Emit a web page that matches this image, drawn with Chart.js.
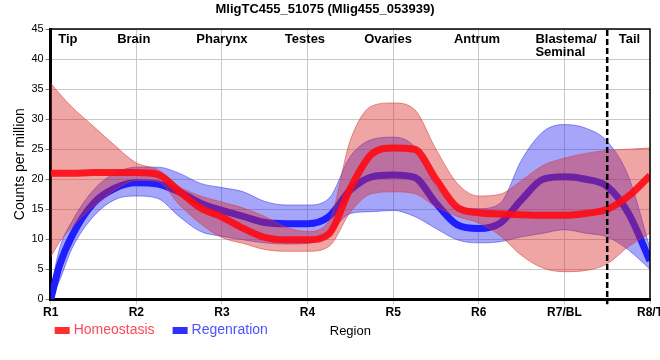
<!DOCTYPE html>
<html><head><meta charset="utf-8">
<script src="https://cdn.jsdelivr.net/npm/chart.js@4.4.0/dist/chart.umd.min.js"></script>
<style>html,body{margin:0;padding:0;background:#fff;overflow:hidden}#wrap{width:660px;height:360px;position:relative}</style>
</head><body><div id="wrap"><canvas id="c" width="660" height="360"></canvas></div>
<script>
const chartTitle = 'MligTC455_51075 (Mlig455_053939)';
const xTitle = 'Region';
const yTitle = 'Counts per million';
const xTickLabels = ['R1','R2','R3','R4','R5','R6','R7/BL','R8/T'];
const regionNames = ['Tip','Brain','Pharynx','Testes','Ovaries','Antrum','Blastema/\nSeminal','Tail'];
const regionAt = [1.2, 1.97, 3.0, 3.97, 4.94, 5.98, 7.02, 7.76];
const tailBoundary = 7.5;
const seriesNames = ['Homeostasis','Regenration'];

const xs =        [1,   1.1, 1.25, 1.5, 1.75, 2,   2.25, 2.5, 2.75, 3,   3.25, 3.5, 3.75, 4,   4.25, 4.5, 4.75, 5,   5.25, 5.5, 5.75, 6,   6.25, 6.5, 6.75, 7,   7.25, 7.5, 7.75, 8];
const homeoMean = [21.0,21.0,21.0, 21.1,21.1, 21.1,20.8, 18.0,15.2, 13.7,11.8, 10.3,9.9,  9.9, 10.9, 18.5,24.2, 25.2,25.0, 20.0,15.3, 14.4,14.2, 14.1,14.0, 14.0,14.3, 15.0,17.2, 20.6];
const homeoUpper = [36, 34.3,32.0, 28.8,25.6, 22.7,21.6, 18.8,17.2, 16.2,15.2, 13.8,12.0, 11.3,13.0, 26.5,32.2, 32.7,31.6, 25.0,19.3, 17.2,17.5, 19.8,22.3, 23.5,24.3, 24.8,25.0, 25.2];
const homeoLower = [7,  9.5, 12.0, 15.5,18.2, 19.8,19.6, 15.8,12.6, 10.3,9.3,  8.3, 8.0,  8.0, 8.8,  14.5,17.6, 17.9,17.6, 15.4,13.8, 12.7,10.6, 7.3, 5.2,  4.6, 4.8,  5.9, 8.8,  11];
const regenMean = [0,   5.5, 10.6, 16.0,18.5, 19.4,19.2, 17.9,16.0, 14.8,13.8, 12.8,12.6, 12.6,13.8, 18.2,20.4, 20.7,20.3, 16.0,12.4, 11.8,12.7, 16.6,20.0, 20.4,20.0, 18.8,14.3, 6.4];
const regenUpper = [1.5,8.3, 13.0, 18.2,21.0, 22.0,22.0, 21.0,19.3, 18.6,17.9, 16.3,15.7, 15.7,16.8, 23.8,26.6, 27.0,25.4, 18.8,15.4, 15.1,16.0, 23.2,27.9, 29.1,28.5, 26.3,20.4, 8.5];
const regenLower = [0,  3.0, 8.5,  13.8,16.6, 17.2,16.8, 13.8,11.3, 10.5,9.9,  9.4, 9.2,  9.3, 11.0, 14.3,14.6, 14.8,13.8, 11.8,9.9,  9.4, 9.6,  10.4,11.0, 11.6,11.0, 10.4,8.2,  5.0];

const pts = arr => xs.map((x, i) => ({x: x, y: arr[i]}));
const FONT = "'Liberation Sans', Arial, sans-serif";
Chart.defaults.font.family = FONT;

const RED_LINE = 'rgba(255,10,20,0.9)', BLUE_LINE = 'rgba(30,30,255,1)';
const RED_BAND = 'rgba(220,40,40,0.42)', BLUE_BAND = 'rgba(40,40,240,0.42)';
const RED_EDGE = 'rgba(215,60,60,0.55)', BLUE_EDGE = 'rgba(60,60,230,0.55)';

const band = (data, fill, bg, edge, order) => ({data, fill, backgroundColor: bg, borderColor: edge, borderWidth: 1,
  pointRadius: 0, cubicInterpolationMode: 'monotone', order, isBand: true});

const overlay = {
  id: 'overlay',
  afterDraw(chart) {
    const {ctx, chartArea: a, scales: {x}} = chart;
    ctx.save();
    ctx.strokeStyle = '#000'; ctx.lineWidth = 1.5;
    ctx.beginPath(); ctx.moveTo(a.left, a.top); ctx.lineTo(a.right, a.top); ctx.lineTo(a.right, a.bottom); ctx.stroke();
    const px = x.getPixelForValue(tailBoundary);
    ctx.setLineDash([6, 3]); ctx.lineWidth = 2.5;
    ctx.beginPath(); ctx.moveTo(px, a.top + 1); ctx.lineTo(px, a.bottom + 5); ctx.stroke();
    ctx.setLineDash([]);
    // region names
    ctx.fillStyle = '#000'; ctx.font = 'bold 13px ' + FONT; ctx.textBaseline = 'middle';
    regionNames.forEach((name, i) => {
      const lines = name.split('\n');
      const cx = x.getPixelForValue(regionAt[i]);
      const w = Math.max(...lines.map(l => ctx.measureText(l).width));
      ctx.textAlign = 'left';
      lines.forEach((l, j) => ctx.fillText(l, cx - w / 2, a.top + 10 + j * 13.5));
    });
    // legend
    ctx.font = '14px ' + FONT;
    let lx = a.left + 4; const ly = 330.5;
    const items = [{t: seriesNames[0], box: '#ff3030', txt: '#ff4a55'}, {t: seriesNames[1], box: '#2f2fff', txt: '#5050ff'}];
    items.forEach(it => {
      ctx.fillStyle = it.box; ctx.fillRect(lx, ly - 3.5, 15, 7);
      ctx.fillStyle = it.txt; ctx.textAlign = 'left'; ctx.fillText(it.t, lx + 19, ly);
      lx += 19 + ctx.measureText(it.t).width + 18;
    });
    ctx.restore();
  }
};

new Chart(document.getElementById('c'), {
  type: 'line',
  data: {datasets: [
    band(pts(regenUpper), '+1', BLUE_BAND, BLUE_EDGE, 5),
    band(pts(regenLower), false, BLUE_BAND, BLUE_EDGE, 4),
    {label: seriesNames[1], data: pts(regenMean), borderColor: BLUE_LINE, backgroundColor: BLUE_LINE, borderWidth: 7, pointRadius: 0, cubicInterpolationMode: 'monotone', fill: false, order: 3},
    band(pts(homeoUpper), '+1', RED_BAND, RED_EDGE, 2),
    band(pts(homeoLower), false, RED_BAND, RED_EDGE, 1),
    {label: seriesNames[0], data: pts(homeoMean), borderColor: RED_LINE, backgroundColor: RED_LINE, borderWidth: 7, pointRadius: 0, cubicInterpolationMode: 'monotone', fill: false, order: 0}
  ]},
  options: {
    responsive: false, animation: false, events: [],
    layout: {padding: {left: 0, right: 10, top: 0, bottom: 0}},
    plugins: {
      legend: {display: false}, tooltip: {enabled: false},
      title: {display: true, text: chartTitle, color: '#000', font: {size: 13, weight: 'bold'}, padding: {top: 2, bottom: 11.5}}
    },
    scales: {
      x: {type: 'linear', min: 1, max: 8,
        afterFit(s) { s.paddingLeft = 0; s.paddingRight = 0; s.height = 60.7; },
        ticks: {stepSize: 1, autoSkip: false, maxRotation: 0, color: '#000', padding: 1, font: {size: 12, weight: 'bold'},
          callback: v => xTickLabels[Math.round(v) - 1]},
        grid: {color: '#c8c8c8', lineWidth: 1, tickLength: 5, tickColor: '#c8c8c8'},
        border: {color: '#000', width: 3},
        title: {display: true, text: xTitle, color: '#000', font: {size: 13}, padding: {top: 0, bottom: 20.7}}
      },
      y: {min: 0, max: 45,
        afterFit(s) { s.width = 50.7; s.paddingTop = 0; s.paddingBottom = 0; },
        ticks: {stepSize: 5, color: '#000', padding: 2, font: {size: 11}},
        grid: {color: '#c8c8c8', lineWidth: 1, tickLength: 5, tickColor: '#777'},
        border: {color: '#000', width: 3},
        title: {display: true, text: yTitle, color: '#000', font: {size: 14}, padding: {top: 11.6, bottom: 0}}
      }
    }
  },
  plugins: [overlay]
});
</script></body></html>
